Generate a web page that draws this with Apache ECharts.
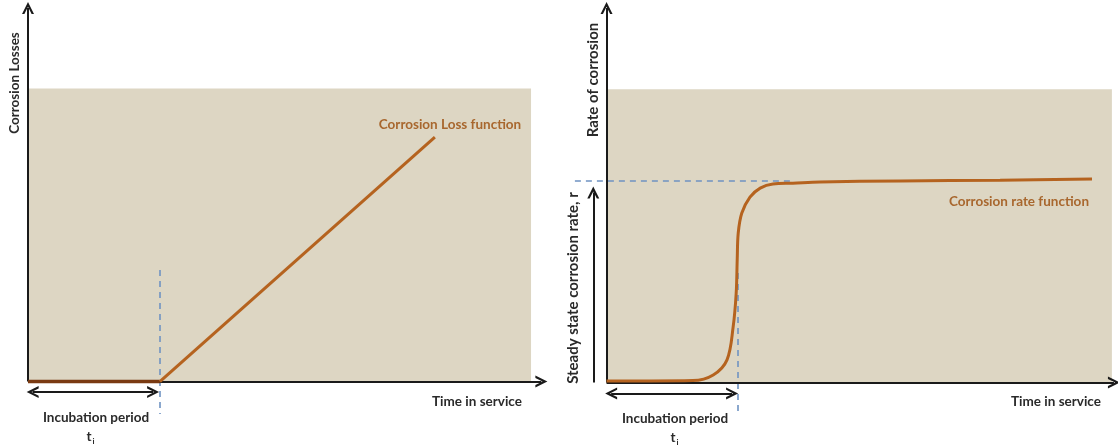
<!DOCTYPE html>
<html><head><meta charset="utf-8">
<script src="https://cdn.jsdelivr.net/npm/echarts@6/dist/echarts.min.js"></script>
<style>html,body{margin:0;padding:0;background:#fff}#c{width:1118px;height:448px}</style>
</head><body><div id="c"></div>
<script>
// ---- Left panel data (time units 0..100, losses units) ----
const lossFlatX = [0, 25.5];
const lossFlatY = [0, 0];
const lossRiseX = [25.5, 78.7];
const lossRiseY = [0, 64.9];
const leftIncubation = 25.5;
const leftBeige = [97.3, 77.8];
// ---- Right panel data ----
const rateX = [0, 8.5, 16.9, 20.9, 23.6, 24.8, 25.4, 25.6, 25.8, 26.5, 28.1, 30.1, 32.6, 36.5, 41.8, 57.5, 77.1, 95.1];
const rateY = [0.4, 0.4, 0.5, 2.0, 6.0, 14.7, 23.7, 32.5, 39.6, 44.9, 49.1, 51.5, 52.6, 52.8, 53.1, 53.4, 53.6, 53.9];
const rightIncubation = 25.8;
const steadyRate = 53.5;
const rightBeige = [99.0, 77.7];

const zip = (xs, ys) => xs.map((x, i) => [x, ys[i]]);
const chevron = 'path://M0,10 L5,0 L10,10 L8,10 L5,4 L2,10 Z';
const BROWN = '#b5631f', DARK = '#7a3a12', BLUE = '#6f93c2', BEIGE = '#ddd6c3', INK = '#1a1a1a', LBL = '#a8672e';
const FONT = 'bold 13.5px Lato, "Open Sans", sans-serif';

function arrowLine(p1, p2, both) {
  return [{coord: p1, symbol: both ? chevron : 'none'}, {coord: p2, symbol: chevron}];
}
function axesSeries(grid, lines) {
  return {
    type: 'line', xAxisIndex: grid, yAxisIndex: grid, data: [], z: 4, silent: true,
    markLine: {
      silent: true, symbolSize: [12, 12], label: {show: false}, emphasis: {disabled: true},
      lineStyle: {color: INK, width: 2, type: 'solid'},
      data: lines
    }
  };
}
function beigeSeries(grid, corner) {
  return {
    type: 'line', xAxisIndex: grid, yAxisIndex: grid, data: [], z: 0, silent: true,
    markArea: {silent: true, itemStyle: {color: BEIGE}, data: [[{coord: [0, 0]}, {coord: corner}]]}
  };
}
function dashSeries(grid, lines) {
  return {
    type: 'line', xAxisIndex: grid, yAxisIndex: grid, data: [], z: 2, silent: true,
    markLine: {
      silent: true, symbol: 'none', label: {show: false}, emphasis: {disabled: true},
      lineStyle: {color: BLUE, width: 1.6, type: [6, 5]},
      data: lines.map(l => [{coord: l[0]}, {coord: l[1]}])
    }
  };
}
function xa(grid, min, max) { return {type: 'value', gridIndex: grid, min, max, show: false}; }
function ya(grid, min, max) { return {type: 'value', gridIndex: grid, min, max, show: false}; }

function txt(text, x, y, opt) {
  opt = opt || {};
  return {
    type: 'text', x, y, rotation: opt.rot || 0, silent: true, z: 100,
    style: {text, fill: opt.fill || '#2a2a2a', font: opt.font || FONT, align: 'center', verticalAlign: 'middle'}
  };
}

const option = {
  animation: false,
  grid: [
    {left: 28, right: 573, top: 5, bottom: 21.3},
    {left: 565.7, right: 1, top: 5, bottom: 20.2}
  ],
  xAxis: [xa(0, 0, 100), xa(1, -8, 100)],
  yAxis: [ya(0, -12, 100), ya(1, -12, 100)],
  series: [
    beigeSeries(0, leftBeige),
    dashSeries(0, [[[leftIncubation, 29.6], [leftIncubation, -8.6]]]),
    axesSeries(0, [
      arrowLine([0, 0], [0, 99.2]),
      arrowLine([0, 0], [99.3, 0]),
      arrowLine([0.9, -2.8], [24.2, -2.8], true)
    ]),
    {type: 'line', xAxisIndex: 0, yAxisIndex: 0, z: 5, silent: true, symbol: 'none',
      lineStyle: {color: DARK, width: 3.5}, data: zip(lossFlatX, lossFlatY)},
    {type: 'line', xAxisIndex: 0, yAxisIndex: 0, z: 5, silent: true, symbol: 'none',
      lineStyle: {color: BROWN, width: 3}, data: zip(lossRiseX, lossRiseY)},

    beigeSeries(1, rightBeige),
    dashSeries(1, [
      [[rightIncubation, 29.0], [rightIncubation, -8.1]],
      [[-6.2, steadyRate], [36.5, steadyRate]]
    ]),
    axesSeries(1, [
      arrowLine([0, 0], [0, 99.2]),
      arrowLine([0, 0], [99.4, 0]),
      arrowLine([-2.6, 0], [-2.6, 50.3]),
      arrowLine([0.9, -2.9], [24.6, -2.9], true)
    ]),
    {type: 'line', xAxisIndex: 1, yAxisIndex: 1, z: 5, silent: true, symbol: 'none',
      smooth: 0.35,
      lineStyle: {color: BROWN, width: 3}, data: zip(rateX, rateY)}
  ],
  graphic: [
    txt('Corrosion Losses', 15, 83, {rot: Math.PI / 2}),
    txt('Corrosion Loss function', 450, 125, {fill: LBL}),
    txt('Time in service', 477, 402),
    txt('Incubation period', 96, 418),
    txt('t', 89, 437),
    txt('i', 93.5, 441, {font: 'bold 8px Lato, sans-serif'}),
    txt('Rate of corrosion', 593, 80, {rot: Math.PI / 2, font: 'bold 15px Lato, sans-serif'}),
    txt('Steady state corrosion rate, r', 573, 288, {rot: Math.PI / 2, font: 'bold 15px Lato, sans-serif'}),
    txt('Corrosion rate function', 1019, 202, {fill: LBL}),
    txt('Time in service', 1056, 402),
    txt('Incubation period', 675, 419),
    txt('t', 673, 438),
    txt('i', 677.5, 442, {font: 'bold 8px Lato, sans-serif'})
  ]
};
echarts.init(document.getElementById('c'), null, {renderer: 'canvas'}).setOption(option);
</script></body></html>
